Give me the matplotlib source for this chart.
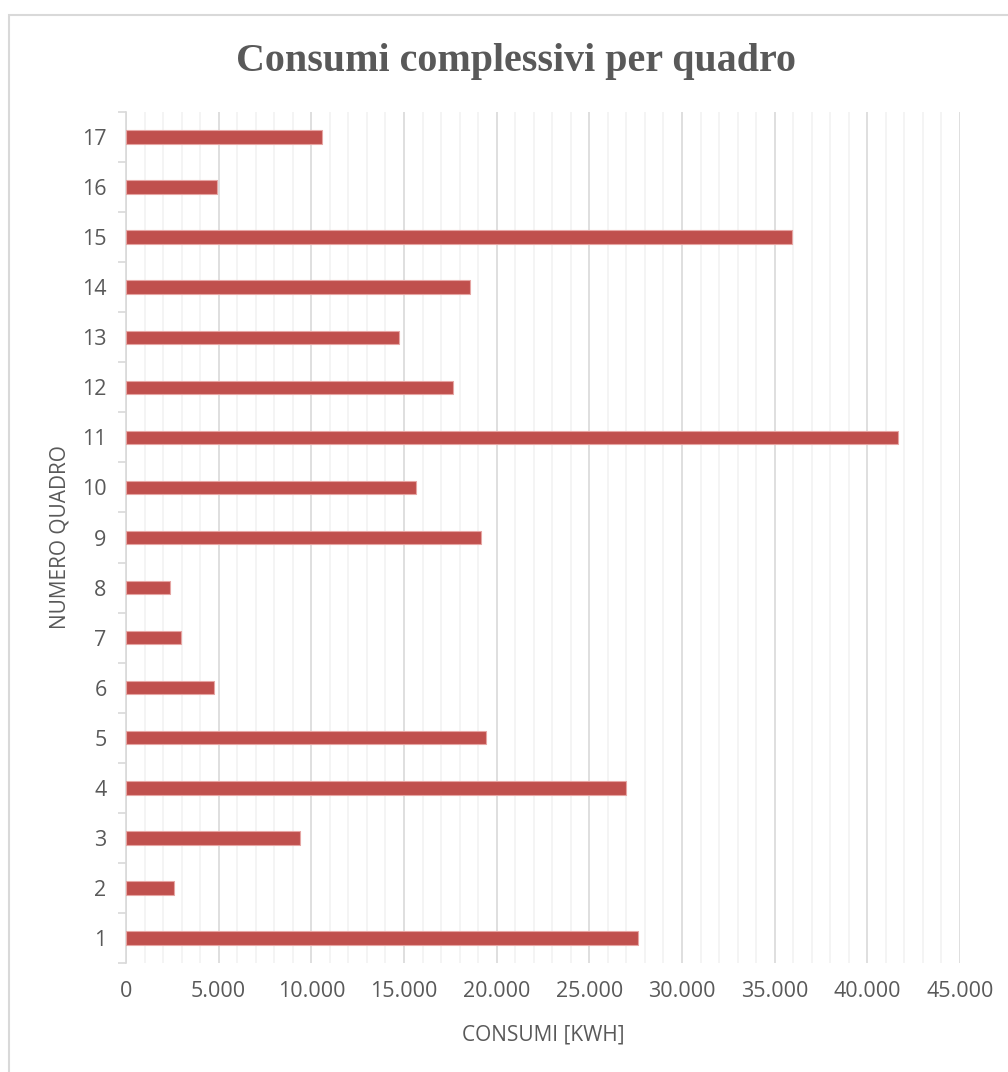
import matplotlib
matplotlib.use("Agg")
import matplotlib.pyplot as plt
from matplotlib.patches import Rectangle
from matplotlib.ticker import FixedLocator, MultipleLocator, FuncFormatter

# consumption per distribution board, kWh
quadri = list(range(1, 18))
consumi = [27620, 2590, 9390, 26980, 19420, 4750, 2970, 2380, 19150,
           15650, 41650, 17640, 14730, 18560, 35930, 4910, 10580]

bar_color = "#C0504D"
text_color = "#595959"

fig = plt.figure(figsize=(10.08, 10.72), dpi=100)

# light chart-area frame
fig.patches.append(Rectangle((9 / 1008, -0.1), 1.2, 1.1 - 15 / 1072,
                             transform=fig.transFigure, fill=False,
                             edgecolor="#D9D9D9", linewidth=1.5))

ax = fig.add_axes([126 / 1008, 1 - 963 / 1072, (960 - 126) / 1008, (963 - 112) / 1072])

ax.barh(quadri, consumi, height=0.27, color=bar_color,
        edgecolor="#E6A5A3", linewidth=0.8, zorder=3)

ax.set_xlim(0, 45000)
ax.set_ylim(0.5, 17.5)

ax.xaxis.set_major_locator(MultipleLocator(5000))
ax.xaxis.set_minor_locator(MultipleLocator(1000))
ax.xaxis.set_major_formatter(FuncFormatter(lambda v, p: f"{int(v):,}".replace(",", ".")))
ax.grid(axis="x", which="major", color="#D9D9D9", linewidth=1.2, zorder=0)
ax.grid(axis="x", which="minor", color="#F2F2F2", linewidth=1.2, zorder=0)
ax.tick_params(axis="x", which="both", length=0, pad=13,
               labelsize=15.5, labelcolor=text_color)

# category labels sit between boundary ticks
ax.set_yticks(quadri)
ax.set_yticklabels([str(q) for q in quadri])
ax.yaxis.set_minor_locator(FixedLocator([q + 0.5 for q in range(0, 18)]))
ax.tick_params(axis="y", which="major", length=0, pad=14,
               labelsize=15.5, labelcolor=text_color)
ax.tick_params(axis="y", which="minor", length=6, color="#D9D9D9", width=1.2)

for side in ["top", "right", "bottom"]:
    ax.spines[side].set_visible(False)
ax.spines["left"].set_color("#D9D9D9")
ax.spines["left"].set_linewidth(1.2)

for lab in ax.get_xticklabels() + ax.get_yticklabels():
    lab.set_family("Open Sans")

ax.set_xlabel("CONSUMI [KWH]", fontsize=15, color=text_color,
              family="Open Sans", labelpad=16)
ax.set_ylabel("NUMERO QUADRO", fontsize=15, color=text_color,
              family="Open Sans", labelpad=8)

fig.text(516 / 1008, 1 - 62 / 1072, "Consumi complessivi per quadro", ha="center",
         va="center", fontsize=28.8, fontweight="bold", color=text_color,
         family="Liberation Serif")

fig.savefig("out.png", dpi=100, facecolor="white")
